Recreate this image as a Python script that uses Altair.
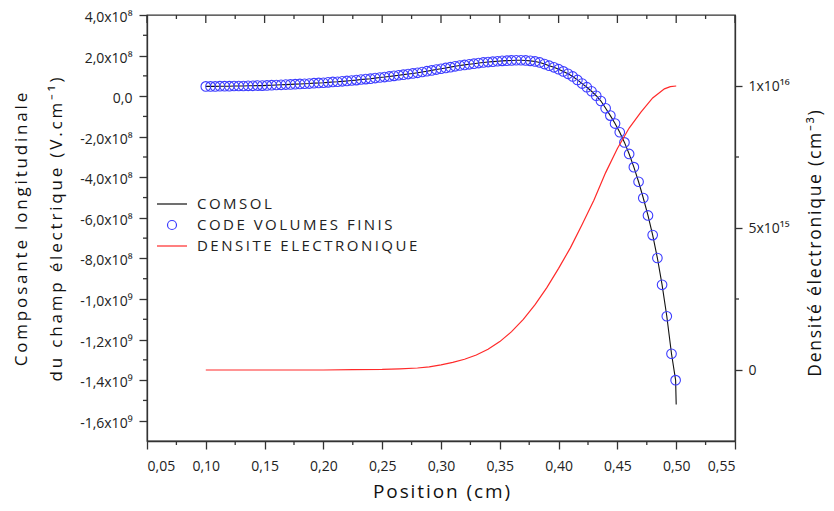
import altair as alt
import pandas as pd

# ---------------- data ----------------
# finite-volume code points (x in cm, E in units of 1e8 V/cm)
fv_x = [0.100, 0.104, 0.108, 0.112, 0.116, 0.120, 0.124, 0.128, 0.132, 0.136,
        0.140, 0.144, 0.148, 0.152, 0.156, 0.160, 0.164, 0.168, 0.172, 0.176,
        0.180, 0.184, 0.188, 0.192, 0.196, 0.200, 0.204, 0.208, 0.212, 0.216,
        0.220, 0.224, 0.228, 0.232, 0.236, 0.240, 0.244, 0.248, 0.252, 0.256,
        0.260, 0.264, 0.268, 0.272, 0.276, 0.280, 0.284, 0.288, 0.292, 0.296,
        0.300, 0.304, 0.308, 0.312, 0.316, 0.320, 0.324, 0.328, 0.332, 0.336,
        0.340, 0.344, 0.348, 0.352, 0.356, 0.360, 0.364, 0.368, 0.372, 0.376,
        0.380, 0.384, 0.388, 0.392, 0.396, 0.400, 0.404, 0.408, 0.412, 0.416,
        0.420, 0.424, 0.428, 0.432, 0.436, 0.440, 0.444, 0.448, 0.452, 0.456,
        0.460, 0.464, 0.468, 0.472, 0.476, 0.480, 0.484, 0.488, 0.492, 0.496,
        0.4995]
fv_e = [0.48, 0.48, 0.48, 0.49, 0.49, 0.49, 0.50, 0.50, 0.50, 0.51,
        0.51, 0.52, 0.52, 0.53, 0.54, 0.55, 0.56, 0.57, 0.58, 0.59,
        0.60, 0.61, 0.62, 0.64, 0.65, 0.66, 0.68, 0.70, 0.71, 0.73,
        0.75, 0.77, 0.79, 0.82, 0.84, 0.86, 0.89, 0.92, 0.94, 0.97,
        1.00, 1.03, 1.06, 1.09, 1.12, 1.15, 1.19, 1.23, 1.27, 1.31,
        1.35, 1.39, 1.43, 1.47, 1.51, 1.54, 1.57, 1.60, 1.63, 1.66,
        1.68, 1.70, 1.72, 1.74, 1.75, 1.76, 1.77, 1.77, 1.76, 1.74,
        1.71, 1.66, 1.58, 1.50, 1.42, 1.33, 1.22, 1.10, 0.97, 0.80,
        0.62, 0.44, 0.24, 0.02, -0.24, -0.60, -0.96, -1.35, -1.78, -2.28,
        -2.85, -3.50, -4.22, -5.02, -5.88, -6.85, -7.98, -9.30, -10.85, -12.70,
        -14.00]

# COMSOL curve (same points, continuing to the boundary)
comsol_x = fv_x + [0.500]
comsol_e = fv_e + [-15.2]

# electron density (x in cm, n in units of 1e15 cm^-3)
dens_x = [0.100, 0.150, 0.200, 0.225, 0.250, 0.265, 0.280, 0.290, 0.300, 0.310,
          0.320, 0.330, 0.340, 0.350, 0.360, 0.370, 0.380, 0.390, 0.400, 0.410,
          0.420, 0.430, 0.440, 0.450, 0.460, 0.470, 0.480, 0.490, 0.495, 0.500]
dens_n = [0.00, 0.00, 0.00, 0.01, 0.02, 0.04, 0.07, 0.11, 0.18, 0.27,
          0.38, 0.53, 0.73, 1.00, 1.35, 1.78, 2.30, 2.90, 3.58, 4.30,
          5.12, 5.98, 6.95, 7.80, 8.52, 9.08, 9.58, 9.90, 9.98, 10.00]

# ticks
x_major = [0.05, 0.10, 0.15, 0.20, 0.25, 0.30, 0.35, 0.40, 0.45, 0.50, 0.55]
x_minor = [0.075, 0.125, 0.175, 0.225, 0.275, 0.325, 0.375, 0.425, 0.475, 0.525]
e_major = [4e8, 2e8, 0.0, -2e8, -4e8, -6e8, -8e8, -1.0e9, -1.2e9, -1.4e9, -1.6e9]
e_minor = [3e8, 1e8, -1e8, -3e8, -5e8, -7e8, -9e8, -1.1e9, -1.3e9, -1.5e9]
n_major = [0.0, 5e15, 1e16]
n_minor = [2.5e15, 7.5e15]


def spaced(s, sep="\u2009"):
    return sep.join(s)


S_COMSOL = spaced("COMSOL")
S_FV = spaced("CODE VOLUMES FINIS")
S_DENS = spaced("DENSITE ELECTRONIQUE")
series = [S_COMSOL, S_FV, S_DENS]

# ---------------- styling ----------------
W, H = 588, 426
FONT = "Open Sans"
AX = "#333333"
BLUE = "#3c3cff"
RED = "#ff2a2a"
BLACK = "#111111"

x_scale = alt.Scale(domain=[0.05, 0.55], nice=False, zero=False)
e_scale = alt.Scale(domain=[-1.7e9, 4e8], nice=False, zero=False)
n_scale = alt.Scale(domain=[-2.5e15, 1.25e16], nice=False, zero=False)

LINE_PATH = "M-1.5,0H1.5"
CIRC_PATH = "M0.45,0A0.45,0.45,0,1,1,-0.45,0A0.45,0.45,0,1,1,0.45,0Z"
stroke_scale = alt.Scale(domain=series, range=[BLACK, BLUE, RED])
shape_scale = alt.Scale(domain=series, range=[LINE_PATH, CIRC_PATH, LINE_PATH])

legend = alt.Legend(
    title=None, orient="none", legendX=14, legendY=178, padding=0,
    symbolSize=400, symbolStrokeWidth=1.2, symbolFillColor="transparent",
    labelFont=FONT, labelFontSize=15, labelColor="#222222", labelOffset=14,
    labelLimit=500, rowPadding=2,
)

x_axis = alt.Axis(
    values=x_major,
    labelExpr="replace(format(datum.value, '.2f'), '.', ',')",
    tickSize=8, labelPadding=10, labelFontSize=14,
    title=spaced("Position (cm)", "\u200a"), titleFontSize=19, titleY=50,
    titleBaseline="middle",
)

e_label = ("datum.value == 0 ? '0,0' : (datum.value < 0 ? '-' : '') + "
           "(abs(datum.value) >= 1e9 ? replace(format(abs(datum.value) / 1e9, '.1f'), '.', ',') + 'x10\u2079' "
           ": replace(format(abs(datum.value) / 1e8, '.1f'), '.', ',') + 'x10\u2078')")
e_axis = alt.Axis(
    orient="left", values=e_major, labelExpr=e_label,
    tickSize=8, labelPadding=7, labelFontSize=14, labelOffset=2.5,
    title=[spaced("Composante longitudinale"), spaced("du champ électrique (V.cm⁻¹)")],
    titleFontSize=17, titleLineHeight=35, titleAngle=270,
    titleX=-126, titleY=214, titleAlign="center", titleBaseline="middle",
)

n_axis = alt.Axis(
    orient="right", values=n_major, ticks=True, domain=True,
    labelExpr="datum.value == 0 ? '0' : (datum.value < 6e15 ? '5x10\u00b9\u2075' : '1x10\u00b9\u2076')",
    tickSize=7, labelPadding=6, labelFontSize=14,
    title=spaced("Densité électronique (cm⁻³)", "\u200a"), titleFontSize=17.5, titleAngle=270,
    titleX=80, titleY=228, titleAlign="center", titleBaseline="middle",
)

# ---------------- data frames ----------------
df_fv = pd.DataFrame({"x": fv_x, "E": [v * 1e8 for v in fv_e], "series": S_FV})
df_com = pd.DataFrame({"x": comsol_x, "E": [v * 1e8 for v in comsol_e], "series": S_COMSOL})
df_n = pd.DataFrame({"x": dens_x, "N": [v * 1e15 for v in dens_n], "series": S_DENS})

X = lambda f: alt.X(f, scale=x_scale, axis=x_axis)
YE = lambda f: alt.Y(f, scale=e_scale, axis=e_axis)
YN = lambda f: alt.Y(f, scale=n_scale, axis=n_axis)

# ---------------- left (field) layer ----------------
comsol = alt.Chart(df_com).mark_line(strokeWidth=1.1).encode(
    x=X("x:Q"), y=YE("E:Q"),
    stroke=alt.Stroke("series:N", scale=stroke_scale, legend=legend),
)

fv = alt.Chart(df_fv).mark_point(filled=False, size=455, strokeWidth=1.1, opacity=1).encode(
    x=X("x:Q"), y=YE("E:Q"),
    stroke=alt.Stroke("series:N", scale=stroke_scale, legend=legend),
    shape=alt.Shape("series:N", scale=shape_scale, legend=legend),
)

e_min = alt.Chart(pd.DataFrame({"v": e_minor})).mark_rule(color=AX, strokeWidth=1.3).encode(
    y=YE("v:Q"), x=alt.value(-4), x2=alt.value(0)
)
xb_min = alt.Chart(pd.DataFrame({"v": x_minor})).mark_rule(color=AX, strokeWidth=1.3).encode(
    x=X("v:Q"), y=alt.value(H), y2=alt.value(H + 4)
)
xt_min = alt.Chart(pd.DataFrame({"v": x_minor})).mark_rule(color=AX, strokeWidth=1.3).encode(
    x=X("v:Q"), y=alt.value(0), y2=alt.value(4)
)
xt_maj = alt.Chart(pd.DataFrame({"v": x_major})).mark_rule(color=AX, strokeWidth=1.3).encode(
    x=X("v:Q"), y=alt.value(0), y2=alt.value(8)
)

left = alt.layer(comsol, fv, e_min, xb_min, xt_min, xt_maj)

# ---------------- right (density) layer ----------------
dens = alt.Chart(df_n).mark_line(strokeWidth=1.2).encode(
    x=X("x:Q"), y=YN("N:Q"),
    stroke=alt.Stroke("series:N", scale=stroke_scale, legend=legend),
)
n_min = alt.Chart(pd.DataFrame({"v": n_minor})).mark_rule(color=AX, strokeWidth=1.3).encode(
    y=YN("v:Q"), x=alt.value(W), x2=alt.value(W + 4)
)
right = alt.layer(dens, n_min)

chart = alt.layer(left, right).resolve_scale(y="independent").properties(
    width=W, height=H,
    padding={"left": 139, "top": 7, "right": 91, "bottom": 62},
    autosize=alt.AutoSizeParams(type="none"),
).configure_axis(
    labelFont=FONT, titleFont=FONT, grid=False,
    domainColor=AX, tickColor=AX, domainWidth=1.3, tickWidth=1.3,
    labelColor="#222222", titleColor="#111111", titleFontWeight="normal",
).configure_view(stroke=AX, strokeWidth=1.3)

chart.save("out.html", embed_options={"renderer": "svg", "actions": False})
